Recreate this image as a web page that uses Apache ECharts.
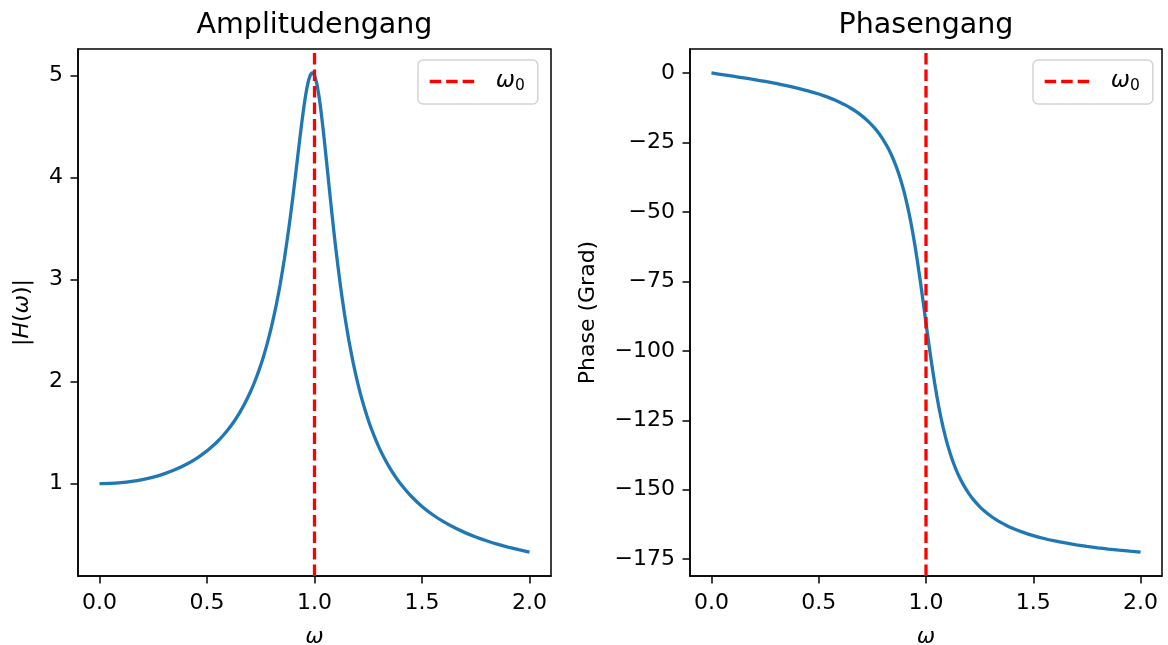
<!DOCTYPE html>
<html>
<head>
<meta charset="utf-8">
<script src="https://cdn.jsdelivr.net/npm/echarts@6/dist/echarts.min.js"></script>
<style>
  html, body { margin: 0; padding: 0; background: #fff; }
  #chart { width: 1168px; height: 645px; }
</style>
</head>
<body>
<div id="chart"></div>
<script>
// ---- data ----
const OMEGA = [0.00, 0.05, 0.10, 0.15, 0.20, 0.25, 0.30, 0.35, 0.40, 0.45, 0.50, 0.525, 0.55, 0.575, 0.60, 0.625, 0.65, 0.675, 0.70,
  0.72, 0.74, 0.76, 0.78, 0.80, 0.82, 0.84, 0.86, 0.88, 0.89, 0.90, 0.91, 0.92, 0.93, 0.94, 0.95, 0.96, 0.97, 0.98, 0.985, 0.99, 0.995,
  1.00, 1.01, 1.02, 1.03, 1.04, 1.05, 1.06, 1.07, 1.08, 1.09, 1.10, 1.12, 1.14, 1.16, 1.18, 1.20, 1.22, 1.25, 1.275, 1.30, 1.325, 1.35, 1.375, 1.40,
  1.45, 1.50, 1.55, 1.60, 1.65, 1.70, 1.75, 1.80, 1.85, 1.90, 1.95, 2.00];
const AMPLITUDE = [1.0000, 1.0025, 1.0099, 1.0225, 1.0408, 1.0651, 1.0965, 1.1360, 1.1851, 1.2460, 1.3216, 1.3662, 1.4162, 1.4724, 1.5357, 1.6076, 1.6893, 1.7830, 1.8908,
  1.9894, 2.1009, 2.2276, 2.3723, 2.5384, 2.7296, 2.9502, 3.2044, 3.4949, 3.6538, 3.8208, 3.9944, 4.1721, 4.3500, 4.5225, 4.6826, 4.8218, 4.9309, 5.0010, 5.0192, 5.0252, 5.0188,
  5.0000, 4.9262, 4.8086, 4.6552, 4.4756, 4.2794, 4.0750, 3.8693, 3.6676, 3.4730, 3.2880, 2.9502, 2.6561, 2.4024, 2.1839, 1.9952, 1.8316, 1.6246, 1.4802, 1.3562, 1.2488, 1.1552, 1.0728, 1.0000,
  0.8772, 0.7779, 0.6962, 0.6279, 0.5702, 0.5207, 0.4780, 0.4408, 0.4081, 0.3791, 0.3534, 0.3304];
const PHASE = [0.00, -0.57, -1.16, -1.76, -2.39, -3.05, -3.77, -4.56, -5.44, -6.44, -7.59, -8.25, -8.96, -9.75, -10.62, -11.59, -12.69, -13.93, -15.35,
  -16.65, -18.12, -19.79, -21.72, -23.96, -26.59, -29.71, -33.45, -37.96, -40.57, -43.45, -46.64, -50.14, -54.00, -58.24, -62.84, -67.79, -73.06, -78.58, -81.41, -84.26, -87.13,
  -90.00, -95.68, -101.20, -106.47, -111.42, -116.02, -120.25, -124.10, -127.61, -130.79, -133.67, -138.64, -142.73, -146.13, -148.98, -151.39, -153.45, -156.04, -157.82, -159.36, -160.67, -161.83, -162.84, -163.74,
  -165.26, -166.50, -167.54, -168.41, -169.15, -169.80, -170.37, -170.87, -171.32, -171.72, -172.08, -172.41];
const OMEGA_0 = 1.0;

const X_TICKS = [0.0, 0.5, 1.0, 1.5, 2.0];
const AMP_TICKS = [1, 2, 3, 4, 5];
const PHASE_TICKS = [0, -25, -50, -75, -100, -125, -150, -175];

const X_LIMITS = [-0.1, 2.1];
const AMP_LIMITS = [0.0957, 5.2599];
const PHASE_LIMITS = [-181.03, 8.62];

const TITLES = ['Amplitudengang', 'Phasengang'];
const LEGEND_NAME = 'ω0';

// ---- styling ----
const FONT = 'DejaVu Sans';
const BLUE = '#1f77b4';
const RED = '#ff0000';
const LW = 3.3;

const chart = echarts.init(document.getElementById('chart'), null, { renderer: 'canvas' });

const italic = { fontFamily: FONT, fontStyle: 'italic', fontSize: 22, color: '#000' };

function xAxis(gridIndex) {
  return {
    type: 'value', gridIndex, min: X_LIMITS[0], max: X_LIMITS[1],
    name: '{i|ω}', nameLocation: 'middle', nameGap: 50,
    nameTextStyle: { fontFamily: FONT, fontSize: 22, color: '#000', rich: { i: italic } },
    axisLine: { show: true, onZero: false, lineStyle: { color: '#000', width: 1.5 } },
    axisTick: { show: true, length: 7.5, inside: false, lineStyle: { color: '#000', width: 1.5 }, customValues: X_TICKS },
    axisLabel: { show: true, customValues: X_TICKS, formatter: v => Number(v).toFixed(1), fontFamily: FONT, fontSize: 22, color: '#000', margin: 16 },
    splitLine: { show: false }
  };
}

function fmtNum(v) {
  v = Number(v);
  return v < 0 ? '\u2212' + Math.abs(v) : String(v);
}

const option = {
  animation: false,
  backgroundColor: '#fff',
  title: [
    { text: TITLES[0], left: 314.5, top: 11, padding: 0, textAlign: 'center', textStyle: { fontFamily: FONT, fontSize: 28.5, fontWeight: 'normal', color: '#000' } },
    { text: TITLES[1], left: 926, top: 11, padding: 0, textAlign: 'center', textStyle: { fontFamily: FONT, fontSize: 28.5, fontWeight: 'normal', color: '#000' } }
  ],
  grid: [
    { left: 78, top: 49, width: 473, height: 527, outerBoundsMode: 'none', containLabel: false, show: true, borderColor: '#000', borderWidth: 1.5, backgroundColor: 'transparent' },
    { left: 690, top: 49, width: 472, height: 527, outerBoundsMode: 'none', containLabel: false, show: true, borderColor: '#000', borderWidth: 1.5, backgroundColor: 'transparent' }
  ],
  xAxis: [xAxis(0), xAxis(1)],
  yAxis: [
    {
      type: 'value', gridIndex: 0, min: AMP_LIMITS[0], max: AMP_LIMITS[1],
      name: '|{i|H}({i|ω})|', nameLocation: 'middle', nameGap: 45, nameRotate: 90,
      nameTextStyle: { fontFamily: FONT, fontSize: 22, color: '#000', rich: { i: italic } },
      axisLine: { show: true, onZero: false, lineStyle: { color: '#000', width: 1.5 } },
      axisTick: { show: true, length: 7.5, lineStyle: { color: '#000', width: 1.5 }, customValues: AMP_TICKS },
      axisLabel: { show: true, customValues: AMP_TICKS, formatter: fmtNum, fontFamily: FONT, fontSize: 22, color: '#000', margin: 15 },
      splitLine: { show: false }
    },
    {
      type: 'value', gridIndex: 1, min: PHASE_LIMITS[0], max: PHASE_LIMITS[1],
      name: 'Phase (Grad)', nameLocation: 'middle', nameGap: 91, nameRotate: 90,
      nameTextStyle: { fontFamily: FONT, fontSize: 22, color: '#000' },
      axisLine: { show: true, onZero: false, lineStyle: { color: '#000', width: 1.5 } },
      axisTick: { show: true, length: 7.5, lineStyle: { color: '#000', width: 1.5 }, customValues: PHASE_TICKS },
      axisLabel: { show: true, customValues: PHASE_TICKS, formatter: fmtNum, fontFamily: FONT, fontSize: 22, color: '#000', margin: 15 },
      splitLine: { show: false }
    }
  ],
  legend: [0, 1].map(i => ({
    show: true,
    data: [LEGEND_NAME],
    left: i === 0 ? 418 : 1033,
    top: 60,
    orient: 'horizontal',
    selectedMode: false,
    itemWidth: 47,
    itemHeight: 14,
    padding: [10, 13, 10, 10],
    backgroundColor: '#fff',
    borderColor: '#d4d4d4',
    borderWidth: 1.5,
    borderRadius: 5,
    itemStyle: { color: 'transparent', borderColor: 'transparent', borderWidth: 0, opacity: 0 },
    lineStyle: { color: RED, width: LW, type: [11.5, 5], opacity: 1 },
    formatter: () => '{w|ω}{s|0}',
    textStyle: {
      fontFamily: FONT, fontSize: 22, color: '#000',
      rich: {
        w: { fontFamily: FONT, fontStyle: 'italic', fontSize: 23, color: '#000', padding: [0, 0, 0, 14] },
        s: { fontFamily: FONT, fontSize: 15.5, color: '#000', padding: [9, 0, 0, 0] }
      }
    }
  })),
  series: [
    {
      type: 'line', name: 'amp', xAxisIndex: 0, yAxisIndex: 0,
      data: OMEGA.map((w, k) => [w, AMPLITUDE[k]]),
      symbol: 'none', showSymbol: false, smooth: 0.2, clip: true,
      color: BLUE, lineStyle: { color: BLUE, width: LW }, z: 2
    },
    {
      type: 'line', name: LEGEND_NAME, xAxisIndex: 0, yAxisIndex: 0,
      data: [[OMEGA_0, AMP_LIMITS[0]], [OMEGA_0, AMP_LIMITS[1]]],
      symbol: 'none', showSymbol: false, clip: true,
      color: RED, lineStyle: { color: RED, width: LW, type: [11.5, 5] }, z: 3
    },
    {
      type: 'line', name: 'phase', xAxisIndex: 1, yAxisIndex: 1,
      data: OMEGA.map((w, k) => [w, PHASE[k]]),
      symbol: 'none', showSymbol: false, smooth: 0.2, clip: true,
      color: BLUE, lineStyle: { color: BLUE, width: LW }, z: 2
    },
    {
      type: 'line', name: LEGEND_NAME, xAxisIndex: 1, yAxisIndex: 1,
      data: [[OMEGA_0, PHASE_LIMITS[0]], [OMEGA_0, PHASE_LIMITS[1]]],
      symbol: 'none', showSymbol: false, clip: true,
      color: RED, lineStyle: { color: RED, width: LW, type: [11.5, 5] }, z: 3
    }
  ]
};

chart.setOption(option);
</script>
</body>
</html>
